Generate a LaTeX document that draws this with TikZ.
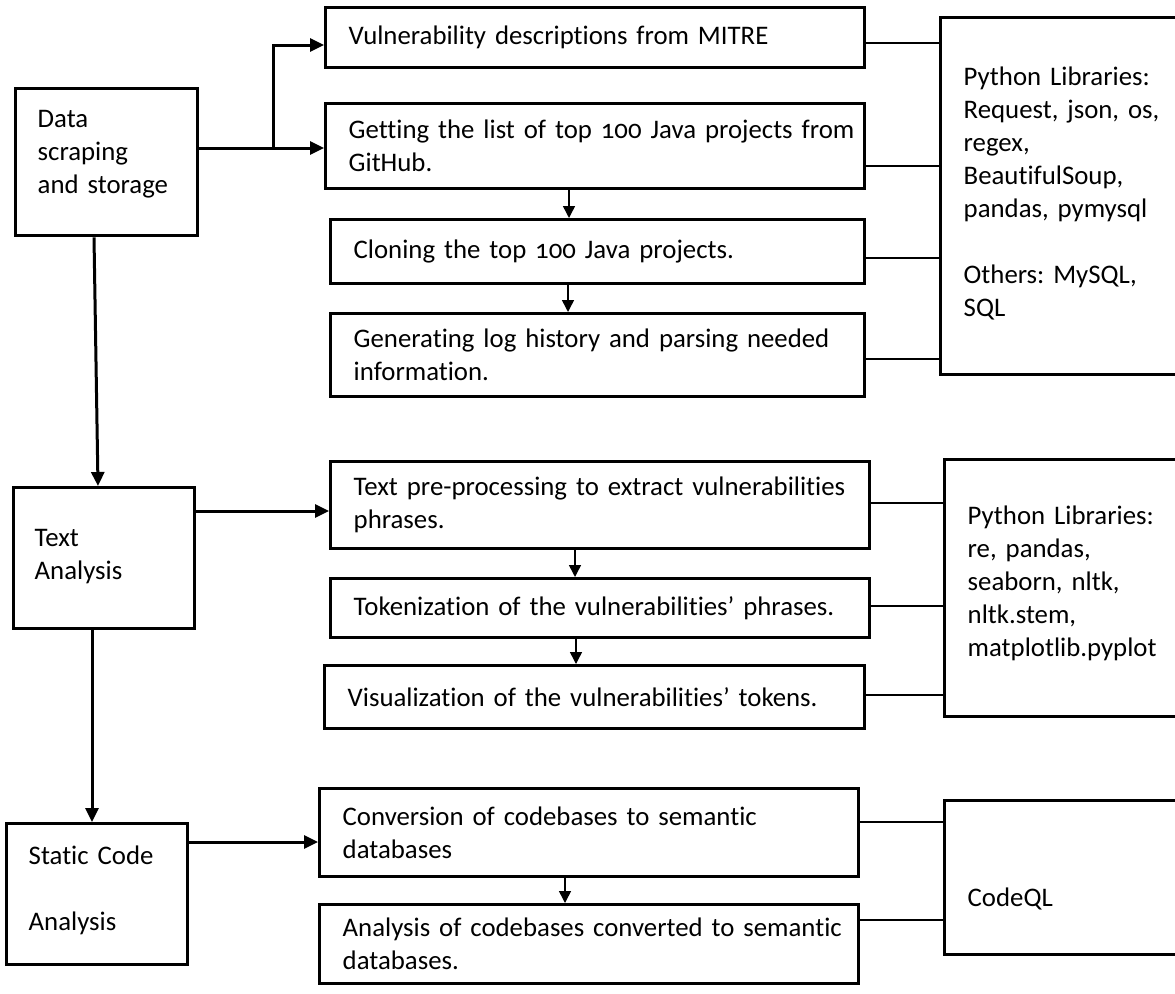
\documentclass[tikz,border=0pt]{standalone}
\usepackage{fontspec}
\setmainfont{Carlito}[Numbers=OldStyle,Ligatures=NoCommon]
\usetikzlibrary{arrows.meta}
\newcommand\tightspacing{\spaceskip=0.17em plus 0.05em minus 0.02em\relax}
\begin{document}
\frenchspacing
\begin{tikzpicture}[x=1pt,y=-1pt,
  box/.style={draw, line width=3.4pt, anchor=north west, inner xsep=0pt, inner ysep=0pt,
    align=left, font=\fontsize{26.8}{33}\selectfont\frenchspacing\tightspacing},
  arrL/.style={line width=3pt, -{Triangle[length=14pt,width=13pt]}},
  arrS/.style={line width=1.5pt, -{Triangle[length=12pt,width=12pt]}},
  link/.style={line width=1.5pt}]
\useasboundingbox (0,0) rectangle (1175,993);
\fill[white] (0,0) rectangle (1175,993);
\clip (0,0) rectangle (1175,993);
% left column
\node[box, minimum width=182pt, minimum height=147pt, text width=138pt] (data) at (14,87) {Data\\scraping\\\mbox{and storage}\\[-12pt]\mbox{}};
\node[box, minimum width=181pt, minimum height=141pt, text width=139pt] (text) at (12,486) {Text\\Analysis\\[-25pt]\mbox{}};
\node[box, minimum width=181pt, minimum height=141pt, text width=137pt] (static) at (5,822) {\mbox{Static Code}\\\mbox{}\\Analysis\\[-20pt]\mbox{}};
% middle column
\node[box, minimum width=539pt, minimum height=60pt, text width=493pt] (vuln) at (324,6) {\mbox{Vulnerability descriptions from MITRE}};
\node[box, minimum width=539pt, minimum height=85pt, text width=493pt] (get) at (324,102) {\mbox{Getting the list of top 100 Java projects from}\\GitHub.};
\node[box, minimum width=534pt, minimum height=64pt, text width=488pt] (clone) at (329,218) {\mbox{Cloning the top 100 Java projects.}};
\node[box, minimum width=534pt, minimum height=83pt, text width=488pt] (gen) at (329,312) {\mbox{Generating log history and parsing needed}\\information.};
\node[box, minimum width=539pt, minimum height=87pt, text width=493pt] (pre) at (329,460) {\mbox{Text pre-processing to extract vulnerabilities}\\phrases.};
\node[box, minimum width=539pt, minimum height=59pt, text width=493pt] (tok) at (329,577) {\mbox{Tokenization of the vulnerabilities’ phrases.}};
\node[box, minimum width=540pt, minimum height=63pt, text width=494pt] (vis) at (323,664) {\mbox{Visualization of the vulnerabilities’ tokens.}};
\node[box, minimum width=539pt, minimum height=88pt, text width=493pt] (conv) at (318,787) {\mbox{Conversion of codebases to semantic}\\databases};
\node[box, minimum width=539pt, minimum height=79pt, text width=493pt] (ana) at (318,903) {\mbox{Analysis of codebases converted to semantic}\\databases.};
% right column
\node[box, minimum width=261pt, minimum height=357pt, text width=215pt] (lib1) at (939,16) {\mbox{}\\[-19pt]\mbox{Python Libraries:}\\\mbox{Request, json, os,}\\regex,\\BeautifulSoup,\\\mbox{pandas, pymysql}\\\mbox{}\\\mbox{Others: MySQL,}\\SQL};
\node[box, minimum width=257pt, minimum height=257pt, text width=211pt] (lib2) at (943,458) {\mbox{}\\[-25pt]\mbox{Python Libraries:}\\\mbox{re, pandas,}\\\mbox{seaborn, nltk,}\\nltk.stem,\\matplotlib.pyplot};
\node[box, minimum width=257pt, minimum height=154pt, text width=211pt] (cql) at (943,799) {\mbox{}\\[28pt]CodeQL};
% left arrows
\coordinate (br) at (273,148);
\draw[arrL] (data.east |- 0,148) -- (get.west |- 0,148);
\draw[arrL] (br) |- (vuln.west |- 0,45);
\draw[arrL] (data.south -| 94,0) -- (text.north -| 98,0);
\draw[arrL] (text.south -| 92,0) -- (static.north -| 92,0);
\draw[arrL] (text.east |- 0,511) -- (pre.west |- 0,511);
\draw[arrL] (static.east |- 0,842) -- (conv.west |- 0,842);
% middle arrows
\draw[arrS] (get.south -| 569,0) -- (clone.north -| 569,0);
\draw[arrS] (clone.south -| 568,0) -- (gen.north -| 568,0);
\draw[arrS] (pre.south -| 575,0) -- (tok.north -| 575,0);
\draw[arrS] (tok.south -| 576,0) -- (vis.north -| 576,0);
\draw[arrS] (conv.south -| 565,0) -- (ana.north -| 565,0);
% links
\draw[link] (vuln.east |- 0,43) -- (lib1.west |- 0,43);
\draw[link] (get.east |- 0,166) -- (lib1.west |- 0,166);
\draw[link] (clone.east |- 0,258) -- (lib1.west |- 0,258);
\draw[link] (gen.east |- 0,359) -- (lib1.west |- 0,359);
\draw[link] (pre.east |- 0,503) -- (lib2.west |- 0,503);
\draw[link] (tok.east |- 0,606) -- (lib2.west |- 0,606);
\draw[link] (vis.east |- 0,695) -- (lib2.west |- 0,695);
\draw[link] (conv.east |- 0,822) -- (cql.west |- 0,822);
\draw[link] (ana.east |- 0,920) -- (cql.west |- 0,920);
\end{tikzpicture}
\end{document}
